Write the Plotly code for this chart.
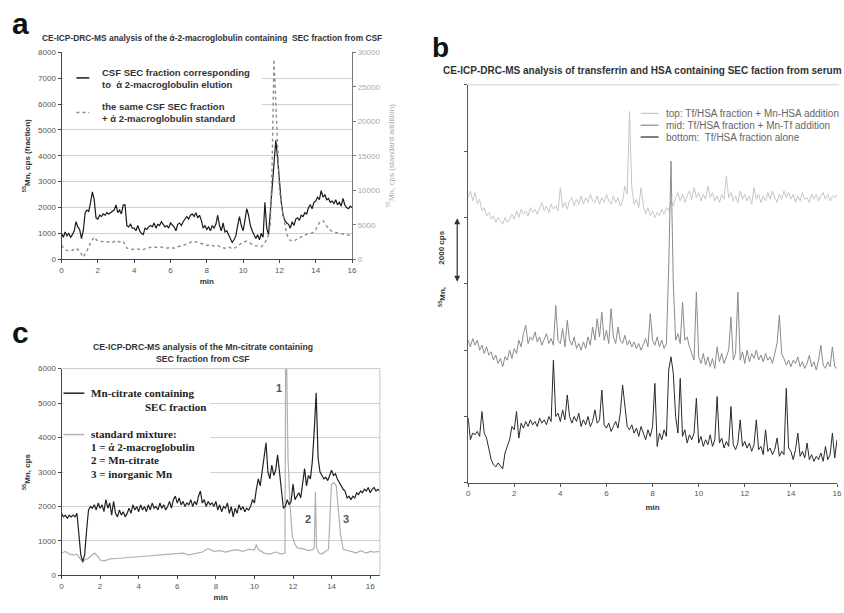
import plotly.graph_objects as go

W, H = 844, 613
def px(x): return x / W
def py(y): return 1 - y / H

# ---------------- Panel a data ----------------
t_a = [0.0,0.1,0.2,0.3,0.4,0.5,0.6,0.7,0.8,0.9,1.0,1.1,1.2,1.3,1.4,1.5,1.6,1.7,1.8,1.9,
       2.0,2.1,2.2,2.3,2.4,2.5,2.6,2.7,2.8,2.9,3.0,3.1,3.2,3.3,3.4,3.5,3.6,3.7,3.8,3.9,
       4.0,4.1,4.2,4.3,4.4,4.5,4.6,4.7,4.8,4.9,5.0,5.1,5.2,5.3,5.4,5.5,5.6,5.7,5.8,5.9,
       6.0,6.1,6.2,6.3,6.4,6.5,6.6,6.7,6.8,6.9,7.0,7.1,7.2,7.3,7.4,7.5,7.6,7.7,7.8,7.9,
       8.0,8.1,8.2,8.3,8.4,8.5,8.6,8.7,8.8,8.9,9.0,9.1,9.2,9.3,9.4,9.5,9.6,9.7,9.8,9.9,
       10.0,10.1,10.2,10.3,10.4,10.5,10.6,10.7,10.8,10.9,11.0,11.1,11.2,11.3,11.4,11.5,11.6,11.7,11.8,11.9,
       12.0,12.1,12.2,12.3,12.4,12.5,12.6,12.7,12.8,12.9,13.0,13.1,13.2,13.3,13.4,13.5,13.6,13.7,13.8,13.9,
       14.0,14.1,14.2,14.3,14.4,14.5,14.6,14.7,14.8,14.9,15.0,15.1,15.2,15.3,15.4,15.5,15.6,15.7,15.8,15.9,16.0]

a_fraction = [1000,850,1050,900,1000,850,950,1100,1450,1250,
              1150,800,1100,1800,1900,1850,2200,2600,2300,1600,
              1550,1700,1650,1750,1700,1800,1750,1800,1850,1900,
              2100,1800,1900,1750,2100,2100,1300,1250,1350,1200,
              1200,1100,1300,1100,1000,950,1200,1150,1250,1300,
              1250,1400,1200,1350,1300,1450,1350,1250,1300,1200,
              1400,1300,1250,1100,1350,1400,1300,1450,1550,1650,
              1550,1700,1750,1650,1800,1600,1700,1500,1200,1300,
              1150,1250,1100,1300,1200,1350,1700,1300,1100,1400,
              1050,1100,950,800,650,750,900,1300,1650,1300,
              1100,1500,1950,1700,1300,1100,950,800,950,750,
              1000,850,2200,1200,950,1800,2600,3700,4600,3900,
              3000,2200,1700,1500,1400,1350,1200,1450,1300,1550,
              1600,1500,1700,1650,1800,1750,2000,2100,1950,2200,
              2250,2400,2300,2650,2400,2500,2300,2350,2200,2250,
              2150,2300,2100,2200,2050,2350,2100,2000,1950,2050,2000]

t_a_std = [0.0,0.2,0.4,0.6,0.8,1.0,1.2,1.4,1.6,1.8,2.0,2.2,2.4,2.6,2.8,3.0,3.2,3.4,3.6,3.8,
           4.0,4.2,4.4,4.6,4.8,5.0,5.2,5.4,5.6,5.8,6.0,6.2,6.4,6.6,6.8,7.0,7.2,7.4,7.6,7.8,
           8.0,8.2,8.4,8.6,8.8,9.0,9.2,9.4,9.6,9.8,10.0,10.2,10.4,10.6,10.8,11.0,11.2,11.4,
           11.5,11.6,11.7,11.8,11.9,12.0,12.2,12.4,12.6,12.8,13.0,13.2,13.4,13.6,13.8,
           14.0,14.2,14.4,14.6,14.8,15.0,15.2,15.4,15.6,15.8,16.0]
a_standard = [2000,1400,1200,1300,1600,1200,300,1200,2400,3200,2600,2600,2500,2500,2400,2700,2500,2600,1600,1500,
              1400,1500,1300,1500,1600,1800,1700,1800,1700,1600,1700,1600,1800,1900,2100,2300,2600,2500,2400,2200,
              2000,2100,1900,2000,1700,1600,1800,1500,1700,2100,2500,2600,2300,2000,1900,1800,2400,3500,
              5000,14000,29000,22000,15000,10000,6500,3600,2700,2600,3000,3300,3500,3700,3800,
              4300,5300,5600,4800,4200,3900,3800,3700,3600,3500,3400]

# ---------------- Panel b data ----------------
t_b = t_a
b_top = [8600,8800,8500,8750,8400,8550,8200,8300,8050,8150,
         7950,8050,7850,8000,7900,7800,8000,7850,7950,8100,
         7950,8200,8000,8250,8100,8200,8050,8300,8150,8250,
         8100,8300,8450,8200,8350,8150,8400,8250,8350,8200,
         8900,8300,8450,8250,8500,8600,8350,8550,8400,8650,
         8400,8600,8450,8700,8500,8450,8650,8400,8600,8450,
         8700,8500,8400,8650,8450,8600,8350,8500,8950,8700,
         11200,8900,8400,8550,8300,8900,8350,8100,8300,8050,
         8200,8000,8150,8050,8250,8100,8300,8200,8500,8350,
         8600,8750,8500,8700,8450,8650,8800,8550,8900,8600,
         8750,8500,8700,8550,8950,8600,8750,8500,8650,8450,
         8700,8550,9250,8600,8750,8500,8650,8450,8800,8550,
         8700,8500,8650,8400,8900,8550,8700,8450,8650,8500,
         8750,8550,8800,8600,8450,8700,8550,8800,8600,8750,
         8550,8700,8450,8650,8500,8750,8550,8600,8450,8700,
         8550,8700,8500,8650,8750,8550,8700,8500,8650,8600,8700]
b_mid = [4300,4100,4350,4150,4300,4000,4150,3900,4100,3850,
         3950,3700,3850,3600,3750,3500,3800,3700,4000,3750,
         4050,3900,4300,4100,4500,4750,4200,4400,4300,4550,
         4250,4400,4150,4300,4500,4200,4350,4150,5350,4300,
         4200,4650,4100,4900,4300,4150,4400,4050,4200,4000,
         4250,4050,4400,4150,4700,4300,4950,4400,5150,4300,
         4600,4200,5250,4400,4200,4700,4300,4200,4450,4150,
         4300,4100,4250,4050,4200,4000,4150,4350,4100,5100,
         4300,4150,4400,4100,4300,4050,4200,6500,9700,6000,
         4300,4500,4200,5450,4300,4400,4100,3900,3700,5750,
         3800,3600,3900,3550,3800,3500,3750,3450,4100,3650,
         3900,3600,3800,4000,5000,3700,3900,5750,3700,3950,
         3600,4000,3650,3900,3750,4000,3700,3850,3650,3900,
         3700,3800,3600,3900,4200,5050,3900,3750,3550,3700,
         3500,3700,3600,3800,3500,3650,3450,3600,3850,3500,
         3650,3400,3700,4150,3550,3450,3650,3500,4100,3500,3450]
b_bottom = [1970,1300,1500,1450,1550,1400,2150,1500,1350,1050,
            700,550,480,600,500,420,900,1100,1300,1700,
            1600,2150,1350,1800,1650,1850,1700,1900,1750,1850,
            1700,1950,1800,1900,1750,2000,1850,3700,2000,2100,
            1850,2200,1900,2650,2000,1800,2000,1850,2100,1700,
            1900,1750,2000,1700,1850,2200,1800,1900,2800,1750,
            1650,1800,1550,1700,1850,1650,2100,2950,2300,1700,
            1600,1750,1500,1650,1400,1700,1500,1300,1600,1400,
            1700,3000,1100,1500,1300,1600,1400,3400,3800,3300,
            2000,1500,3150,1400,1600,1200,1450,1300,1500,2550,
            1200,1400,1100,1300,1150,1450,1100,1300,2600,1200,
            1350,1050,1250,1100,2300,1150,1000,1200,1900,1100,
            1250,1050,1200,950,1150,1900,1000,1100,850,1600,
            950,1050,850,1000,1350,800,950,850,2850,1050,
            950,700,1000,1500,800,950,750,1200,700,850,
            650,800,700,900,650,1100,700,850,1500,750,1300]

# ---------------- Panel c data ----------------
t_c = t_a + [16.1,16.2,16.3,16.4,16.5]
c_fraction = [1800,1700,1750,1650,1750,1700,1750,1700,1800,1100,
              600,400,600,1300,1900,2000,1950,2050,1900,2100,
              1950,2050,1850,2200,1950,2100,1750,2150,1800,1700,
              1900,1750,1850,1700,1800,1950,1800,2050,1900,2000,
              1850,2050,1900,2000,1850,2050,1900,2100,1950,2000,
              1900,2100,1950,2050,1900,2000,2150,1950,2200,2300,
              2100,2250,2050,2150,2000,2100,2050,2200,2000,2150,
              2050,2300,2450,2100,2200,2000,2150,2050,2100,2000,
              2150,1900,2050,1850,2000,1950,2100,1800,2000,1700,
              1950,1800,2050,1900,2000,1850,1950,1900,2000,2200,
              2100,2500,2800,2600,3000,3500,3850,3000,2800,3200,
              2900,3050,3500,3000,2500,1950,2000,2200,2050,2150,
              2650,2200,2300,2400,2250,2700,3100,2600,2900,2800,
              3300,4200,5300,3400,3000,2900,2800,2850,2750,2900,
              3050,2900,2950,2800,2700,2600,2500,2450,2250,2300,
              2200,2300,2250,2400,2350,2450,2400,2500,2450,2550,
              2400,2500,2550,2450,2500,2450]

t_c_std = [0.0,0.2,0.4,0.6,0.8,0.9,1.0,1.1,1.2,1.4,1.5,1.7,1.9,2.0,2.2,2.5,3.0,3.5,4.0,4.5,
           5.0,5.5,6.0,6.3,6.6,7.0,7.3,7.6,7.9,8.2,8.5,8.8,9.1,9.4,9.7,10.0,10.1,10.2,10.5,10.8,
           11.1,11.4,11.58,11.62,11.66,11.74,11.85,11.96,12.1,12.22,12.5,12.8,13.0,13.1,13.16,13.22,
           13.35,13.5,13.7,13.84,13.99,14.1,14.24,14.46,14.6,14.8,15.0,15.3,15.5,15.8,16.0,16.2,16.5]
c_standard = [650,700,620,600,620,550,450,380,450,500,550,650,550,450,420,480,500,520,540,560,
              580,600,620,650,600,650,680,780,700,720,680,720,750,700,760,740,900,750,650,620,
              680,620,650,6500,6500,3400,2000,1150,900,800,780,720,750,800,2430,800,
              650,620,700,760,2630,2700,2600,1200,760,720,700,650,720,650,700,680,700]

x_ticks = [0, 2, 4, 6, 8, 10, 12, 14, 16]

FONT = "Arial, Liberation Sans, sans-serif"
SERIF = "Times New Roman, Liberation Serif, serif"

fig = go.Figure()
fig.add_trace(go.Scatter(x=t_a, y=a_fraction, mode="lines", xaxis="x", yaxis="y",
                         line=dict(color="#1a1a1a", width=1.2), showlegend=False,
                         name="CSF SEC fraction"))
fig.add_trace(go.Scatter(x=t_a_std, y=a_standard, mode="lines", xaxis="x", yaxis="y2",
                         line=dict(color="#8c8c8c", width=1.4, dash="3px,3px"), showlegend=False,
                         name="+ standard"))
fig.add_trace(go.Scatter(x=t_b, y=b_top, mode="lines", xaxis="x2", yaxis="y3",
                         line=dict(color="#c6c6c6", width=1), showlegend=False, name="top"))
fig.add_trace(go.Scatter(x=t_b, y=b_mid, mode="lines", xaxis="x2", yaxis="y3",
                         line=dict(color="#8a8a8a", width=1), showlegend=False, name="mid"))
fig.add_trace(go.Scatter(x=t_b, y=b_bottom, mode="lines", xaxis="x2", yaxis="y3",
                         line=dict(color="#2a2a2a", width=1), showlegend=False, name="bottom"))
fig.add_trace(go.Scatter(x=t_c_std, y=c_standard, mode="lines", xaxis="x3", yaxis="y4",
                         line=dict(color="#b0b0b0", width=1.2), showlegend=False, name="standard"))
fig.add_trace(go.Scatter(x=t_c, y=c_fraction, mode="lines", xaxis="x3", yaxis="y4",
                         line=dict(color="#222222", width=1.2), showlegend=False, name="Mn-citrate"))

tickf = dict(family=FONT, size=8, color="#555")
titlef = dict(family=FONT, size=8, color="#333", weight="bold")

fig.update_layout(
    width=W, height=H, margin=dict(l=0, r=0, t=0, b=0),
    paper_bgcolor="white", plot_bgcolor="white", showlegend=False,
    font=dict(family=FONT),
    # panel a
    xaxis=dict(domain=[px(60), px(353)], anchor="y", range=[0, 16], tickvals=x_ticks,
               showline=True, linecolor="#444", ticks="outside", ticklen=3, tickcolor="#444",
               tickfont=tickf, showgrid=False, zeroline=False,
               title=dict(text="min", font=titlef, standoff=4)),
    yaxis=dict(domain=[py(259), py(49)], anchor="x", range=[0, 8000], dtick=1000,
               showline=True, linecolor="#444", ticks="outside", ticklen=3, tickcolor="#444",
               tickfont=tickf, showgrid=True, gridcolor="#d0d0d0", zeroline=False,
               title=dict(text="<sup>55</sup>Mn, cps (fraction)", font=titlef, standoff=6)),
    yaxis2=dict(overlaying="y", side="right", anchor="x", range=[0, 30000], dtick=5000,
                tickformat="d",
                showline=True, linecolor="#777", ticks="outside", ticklen=3, tickcolor="#777",
                tickfont=dict(family=FONT, size=8, color="#aaa"), showgrid=False, zeroline=False,
                title=dict(text="<sup>55</sup>Mn, cps (standard addition)",
                           font=dict(family=FONT, size=8, color="#aaa"), standoff=8)),
    # panel b
    xaxis2=dict(domain=[px(470), px(842)], anchor="y3", range=[0, 16], tickvals=x_ticks,
                showline=True, linecolor="#555", ticks="outside", ticklen=3, tickcolor="#555",
                tickfont=tickf, showgrid=False, zeroline=False,
                title=dict(text="min", font=titlef, standoff=6)),
    yaxis3=dict(domain=[py(486), py(82)], anchor="x2", range=[0, 12000], dtick=2000,
                showline=True, linecolor="#555", ticks="outside", ticklen=3, tickcolor="#555",
                showticklabels=False, showgrid=False, zeroline=False),
    # panel c
    xaxis3=dict(domain=[px(60), px(381)], anchor="y4", range=[0, 16.5], tickvals=x_ticks,
                showline=True, linecolor="#444", ticks="outside", ticklen=3, tickcolor="#444",
                tickfont=tickf, showgrid=False, zeroline=False,
                title=dict(text="min", font=titlef, standoff=4)),
    yaxis4=dict(domain=[py(580), py(370)], anchor="x3", range=[0, 6000], dtick=1000,
                showline=True, linecolor="#444", ticks="outside", ticklen=3, tickcolor="#444",
                tickfont=tickf, showgrid=True, gridcolor="#d0d0d0", zeroline=False,
                title=dict(text="<sup>55</sup>Mn, cps", font=titlef, standoff=6)),
)

shapes = []
# frame lines
shapes.append(dict(type="line", xref="paper", yref="paper", x0=px(60), x1=px(381), y0=py(370), y1=py(370),
                   line=dict(color="#c8c8c8", width=1)))
shapes.append(dict(type="line", xref="paper", yref="paper", x0=px(381), x1=px(381), y0=py(580), y1=py(370),
                   line=dict(color="#c8c8c8", width=1)))
shapes.append(dict(type="line", xref="paper", yref="paper", x0=px(470), x1=px(844), y0=py(82), y1=py(82),
                   line=dict(color="#d0d0d0", width=1)))
# legend a
shapes.append(dict(type="rect", xref="paper", yref="paper", x0=px(62), x1=px(262), y0=py(122), y1=py(57),
                   fillcolor="white", line=dict(width=0), layer="above"))
shapes.append(dict(type="line", xref="paper", yref="paper", x0=px(75), x1=px(88), y0=py(75), y1=py(75),
                   line=dict(color="#1a1a1a", width=1.5), layer="above"))
shapes.append(dict(type="line", xref="paper", yref="paper", x0=px(75), x1=px(88), y0=py(110), y1=py(110),
                   line=dict(color="#8c8c8c", width=1.5, dash="3px,3px"), layer="above"))
# legend b
for yy, col in [(111, "#c6c6c6"), (123, "#8a8a8a"), (135, "#2a2a2a")]:
    shapes.append(dict(type="line", xref="paper", yref="paper", x0=px(644), x1=px(662), y0=py(yy), y1=py(yy),
                       line=dict(color=col, width=1.2), layer="above"))
# legend c
shapes.append(dict(type="rect", xref="paper", yref="paper", x0=px(62), x1=px(210), y0=py(484), y1=py(378),
                   fillcolor="white", line=dict(width=0), layer="above"))
shapes.append(dict(type="line", xref="paper", yref="paper", x0=px(62), x1=px(83), y0=py(395), y1=py(395),
                   line=dict(color="#222", width=1.5), layer="above"))
shapes.append(dict(type="line", xref="paper", yref="paper", x0=px(62), x1=px(83), y0=py(437), y1=py(437),
                   line=dict(color="#b0b0b0", width=1.5), layer="above"))
fig.update_layout(shapes=shapes)

ann = []
def txt(x, y, s, size=8, color="#333", bold=False, family=FONT, xanchor="left", angle=0):
    ann.append(dict(xref="paper", yref="paper", x=px(x), y=py(y), text=s, showarrow=False,
                    xanchor=xanchor, yanchor="middle", textangle=angle, align="left",
                    font=dict(family=family, size=size, color=color, weight="bold" if bold else "normal")))

# panel letters
txt(8, 20, "a", size=30, color="#111", bold=True)
txt(432, 44, "b", size=28, color="#111", bold=True)
txt(8, 333, "c", size=30, color="#111", bold=True)
# titles
txt(212, 34, "CE-ICP-DRC-MS analysis of the ά-2-macroglobulin containing  SEC fraction from CSF",
    size=8.4, bold=True, xanchor="center")
txt(443, 67, "CE-ICP-DRC-MS analysis of transferrin and HSA containing SEC faction from serum",
    size=10, bold=True)
txt(203, 348, "CE-ICP-DRC-MS analysis of the Mn-citrate containing", size=8.7, bold=True, xanchor="center")
txt(203, 360, "SEC fraction from CSF", size=8.7, bold=True, xanchor="center")
# legend a
txt(99, 76, "CSF SEC fraction corresponding<br>to  ά 2-macroglobulin elution", size=9.5, color="#333", bold=True)
txt(99, 110, "the same CSF SEC fraction<br>+ ά 2-macroglobulin standard", size=9.5, color="#333", bold=True)
# legend b
txt(668, 111, "top: Tf/HSA fraction + Mn-HSA addition", size=10, color="#666")
txt(668, 123, "mid: Tf/HSA fraction + Mn-Tf addition", size=10, color="#666")
txt(668, 135, "bottom:  Tf/HSA fraction alone", size=10, color="#666")
# legend c
txt(88, 395, "Mn-citrate containing", size=11, color="#222", bold=True, family=SERIF)
txt(142, 409, "SEC fraction", size=11, color="#222", bold=True, family=SERIF)
txt(88, 436, "standard mixture:", size=11, color="#222", bold=True, family=SERIF)
txt(88, 450, "1 = ά 2-macroglobulin", size=11, color="#222", bold=True, family=SERIF)
txt(88, 463, "2 = Mn-citrate", size=11, color="#222", bold=True, family=SERIF)
txt(88, 477, "3 = inorganic Mn", size=11, color="#222", bold=True, family=SERIF)
# panel b y label
txt(443, 297, "<sup>55</sup>Mn,", size=8, color="#333", bold=True, xanchor="center", angle=-90)
txt(443, 247, "2000 cps", size=8, color="#333", bold=True, xanchor="center", angle=-90)
ann.append(dict(xref="paper", yref="paper", x=px(459), y=py(282), ax=0, ay=-65, axref="pixel", ayref="pixel",
                text="", showarrow=True, arrowhead=2, startarrowhead=2, arrowside="end+start",
                arrowsize=1, arrowwidth=1.2, arrowcolor="#333"))
# peak labels panel c (data coords)
peak_labels = ["1", "2", "3"]
peak_x = [11.27, 12.76, 14.75]
peak_y = [5450, 1650, 1650]
for s, xx, yy in zip(peak_labels, peak_x, peak_y):
    ann.append(dict(xref="x3", yref="y4", x=xx, y=yy, text=s, showarrow=False,
                    font=dict(family=FONT, size=11, color="#555", weight="bold")))
fig.update_layout(annotations=ann)

fig.write_html("out.html")
